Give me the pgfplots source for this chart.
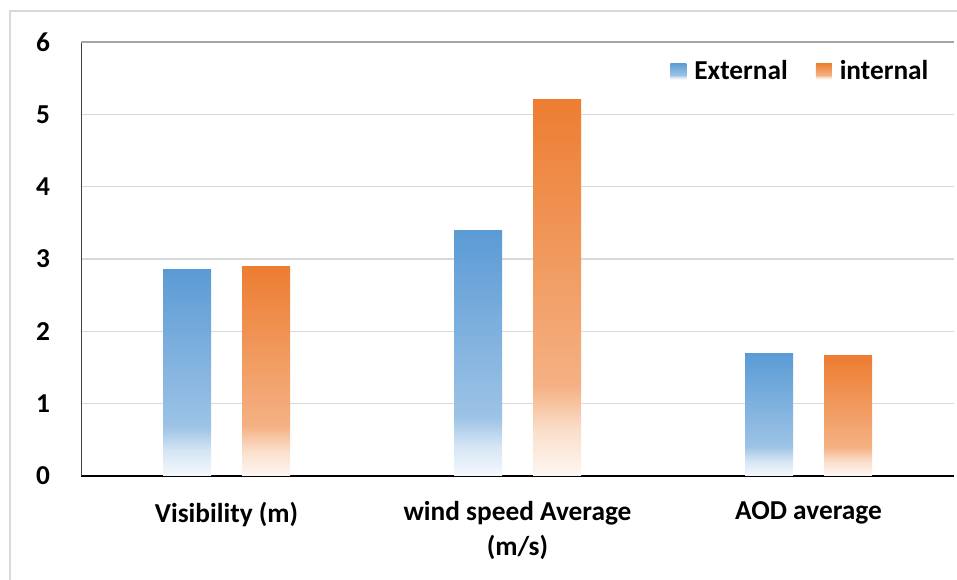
\documentclass[border=0pt]{standalone}
\usepackage{fontspec}
\setmainfont{Carlito}
\usepackage{pgfplots}
\pgfplotsset{compat=1.18}

\definecolor{extblue}{HTML}{5B9BD5}
\definecolor{intorange}{HTML}{ED7D31}
\colorlet{bA}{extblue!6!white}
\colorlet{bB}{extblue!25!white}
\colorlet{bC}{extblue!60!white}
\colorlet{bD}{extblue}
\colorlet{oA}{intorange!6!white}
\colorlet{oB}{intorange!25!white}
\colorlet{oC}{intorange!60!white}
\colorlet{oD}{intorange}
% stops 25bp..75bp = bottom..top of each bar
\pgfdeclareverticalshading{bluegrad}{100bp}{color(0bp)=(bA); color(25bp)=(bA); color(31bp)=(bB); color(37bp)=(bC); color(75bp)=(bD); color(100bp)=(bD)}
\pgfdeclareverticalshading{orangegrad}{100bp}{color(0bp)=(oA); color(25bp)=(oA); color(31bp)=(oB); color(37bp)=(oC); color(75bp)=(oD); color(100bp)=(oD)}

\newcommand{\lblfont}{\bfseries\fontsize{20.5}{26}\selectfont}

% one bar per \addplot so that each bar gets its own gradient
\pgfplotsset{
    extbar/.style={draw=none, shade, shading=bluegrad, bar shift=-29.625pt},
    intbar/.style={draw=none, shade, shading=orangegrad, bar shift=29.625pt},
}

\begin{document}
\begin{tikzpicture}[x=0.75pt,y=0.75pt]
\path[use as bounding box] (0,0) rectangle (957,580);
\draw[black!15, line width=1.5pt] (10,0) -- (10,569) -- (957,569);
\begin{axis}[
    at={(60.75pt,78pt)}, anchor=south west,
    scale only axis, width=654.75pt, height=325.5pt,
    xmin=-0.5, xmax=2.5, ymin=0, ymax=6,
    ytick={0,...,6}, xtick={0,1,2},
    xticklabels={Visibility (m), {wind speed Average\\(m/s)}, AOD average},
    ybar, bar width=36pt,
    axis lines=left, axis line style={-},
    x axis line style={black, line width=1.2pt},
    y axis line style={black!75, line width=0.6pt},
    ymajorgrids, major grid style={black!15, line width=0.9pt},
    extra y ticks={6}, extra y tick labels={},
    extra y tick style={grid=major, major grid style={black!35, line width=0.9pt}},
    tick style={draw=none},
    /pgf/number format/assume math mode=true,
    yticklabel style={font=\lblfont, inner sep=0pt, anchor=east, xshift=-21pt},
    xticklabel style={font=\lblfont, align=center, inner sep=0pt, anchor=north, yshift=-17pt},
    legend columns=2,
    legend style={draw=none, fill=none, at={(0.974,0.933)}, anchor=east,
        inner sep=0pt, font=\lblfont,
        /tikz/every even column/.append style={column sep=19pt}},
    legend image code/.code={\path[#1, draw=none] (0pt,-6pt) rectangle (12pt,6pt);
        \path (0pt,0pt) -- (16pt,0pt);},
]
\addplot[extbar] coordinates {(0,2.85)};
\addplot[intbar] coordinates {(0,2.90)};
\addplot[extbar, forget plot] coordinates {(1,3.39)};
\addplot[intbar, forget plot] coordinates {(1,5.21)};
\addplot[extbar, forget plot] coordinates {(2,1.70)};
\addplot[intbar, forget plot] coordinates {(2,1.66)};
\legend{External, internal}
\end{axis}
\end{tikzpicture}
\end{document}
